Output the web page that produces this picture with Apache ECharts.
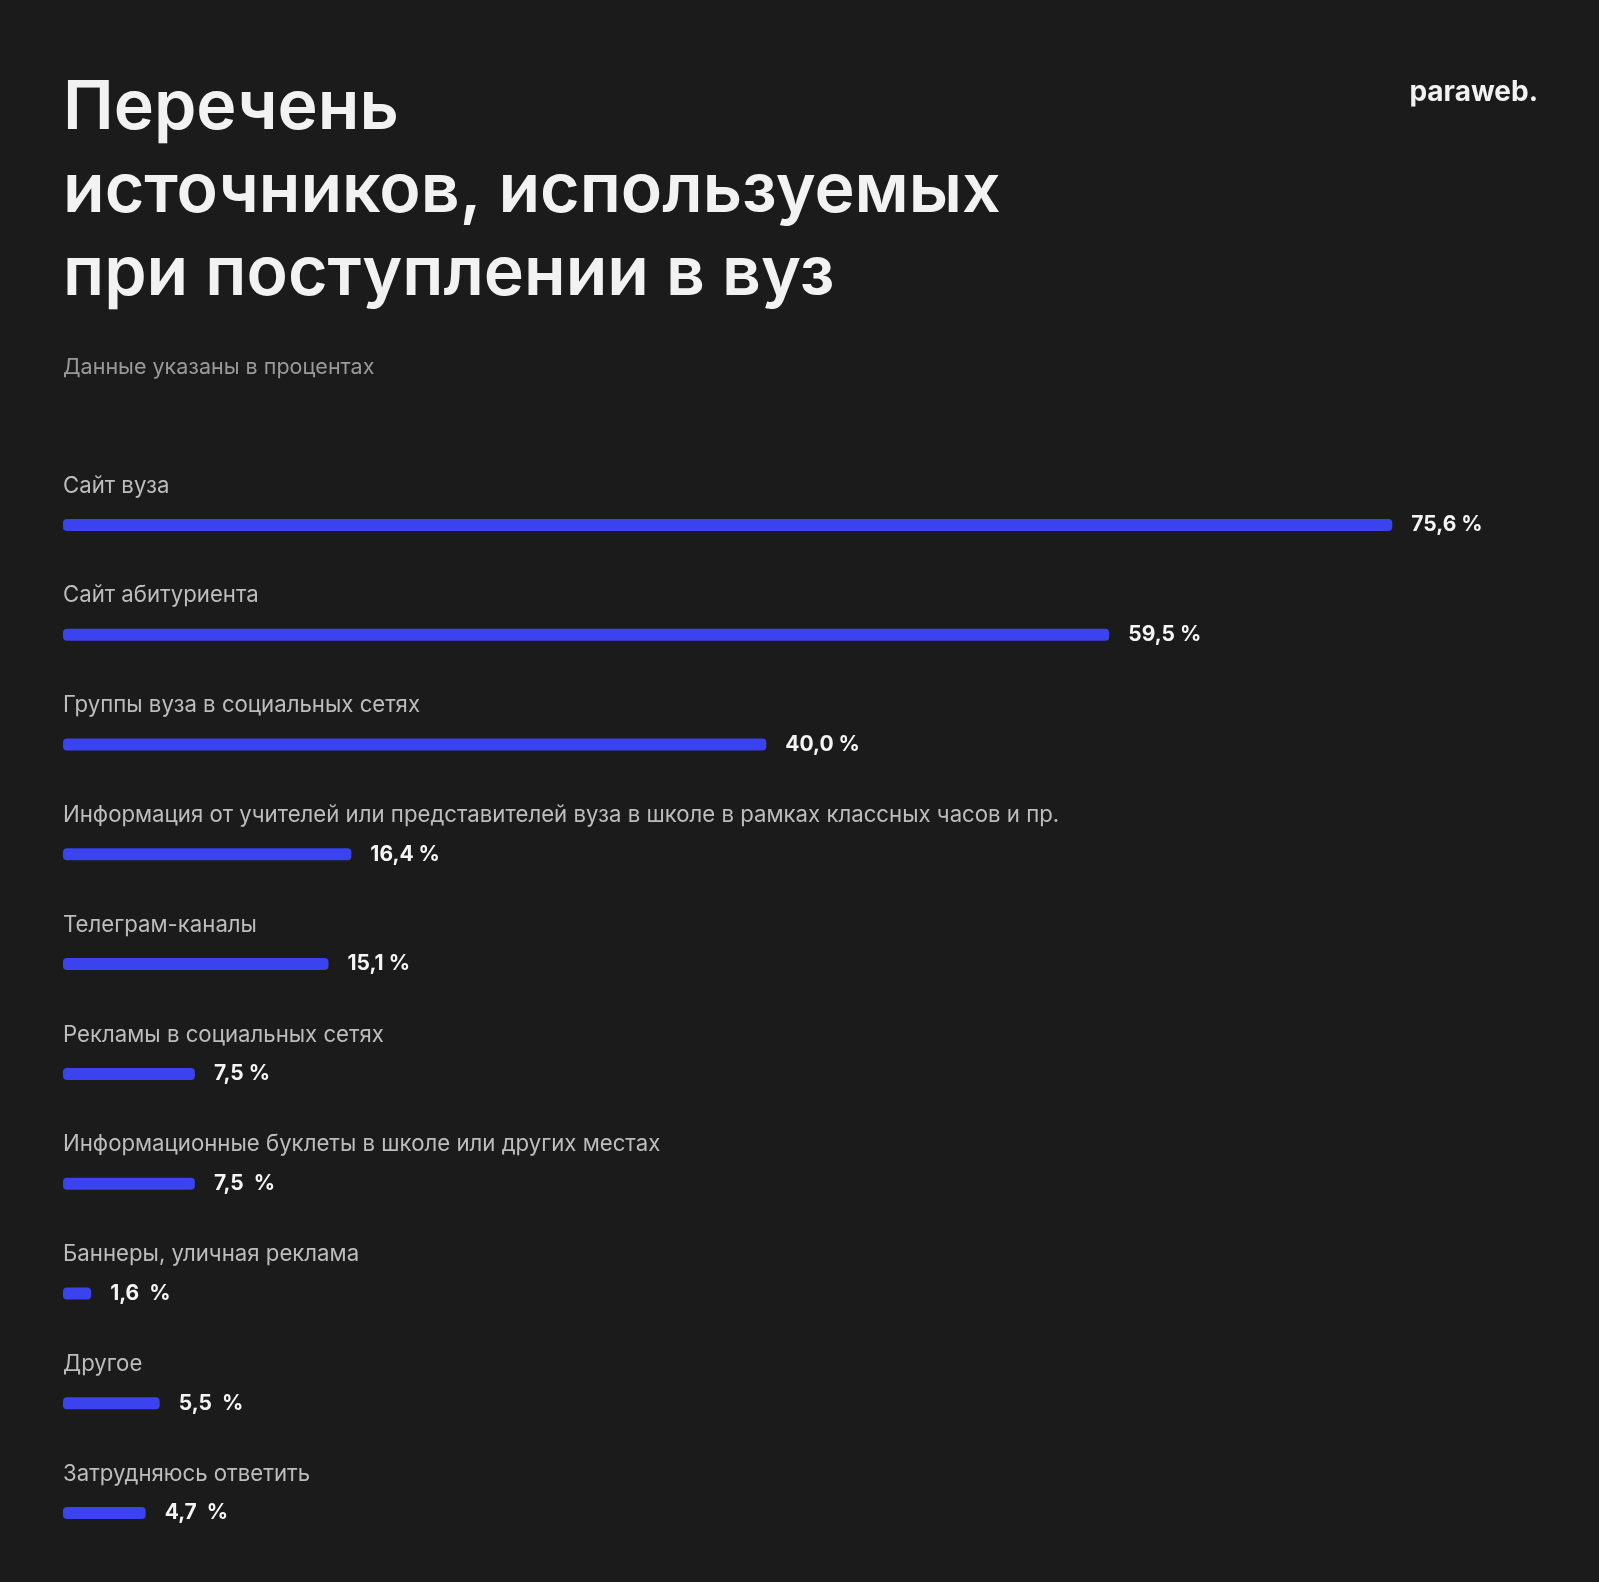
<!DOCTYPE html>
<html><head><meta charset="utf-8">
<script src="https://cdn.jsdelivr.net/npm/echarts@6/dist/echarts.min.js"></script>
<style>html,body{margin:0;background:#1b1b1b}#c{width:1599px;height:1582px}</style>
</head><body><div id="c"></div>
<script>
const categories = ['Сайт вуза','Сайт абитуриента','Группы вуза в социальных сетях','Информация от учителей или представителей вуза в школе в рамках классных часов и пр.','Телеграм-каналы','Рекламы в социальных сетях','Информационные буклеты в школе или других местах','Баннеры, уличная реклама','Другое','Затрудняюсь ответить'];
const values = [75.6,59.5,40.0,16.4,15.1,7.5,7.5,1.6,5.5,4.7];
const valueLabels = ['75,6 %','59,5 %','40,0 %','16,4 %','15,1 %','7,5 %','7,5  %','1,6  %','5,5  %','4,7  %'];
const F = 'Inter, "Noto Sans", sans-serif';
const chart = echarts.init(document.getElementById('c'));
chart.setOption({
  backgroundColor:'#1b1b1b',
  animation:false,
  title:[
    {text:'Перечень\nисточников, используемых\nпри поступлении в вуз',left:58,top:62,textStyle:{color:'#f2f2f2',fontFamily:F,fontSize:68,fontWeight:600,lineHeight:83}},
    {text:'Данные указаны в процентах',left:58,top:352,textStyle:{color:'#9a9a9a',fontFamily:F,fontSize:21.5,fontWeight:400}},
    {text:'paraweb.',right:56,top:74,textStyle:{color:'#f2f2f2',fontFamily:F,fontSize:28,fontWeight:700}}
  ],
  grid:{left:63,right:59,top:470,height:1098},
  xAxis:{type:'value',min:0,max:84,show:false},
  yAxis:{type:'category',inverse:true,data:categories,show:false},
  series:[
    {type:'bar',data:values,barWidth:12,itemStyle:{color:'#3a43ee',borderRadius:4},
     label:{show:true,position:[0,-44],formatter:'{b}',color:'#bdbdbd',fontFamily:F,fontSize:22.2,align:'left'}},
    {type:'bar',data:values,barWidth:12,barGap:'-100%',itemStyle:{color:'rgba(0,0,0,0)'},
     label:{show:true,position:'right',distance:19,formatter:p=>valueLabels[p.dataIndex],color:'#f5f5f5',fontFamily:F,fontSize:21,fontWeight:700}}
  ]
});
</script></body></html>
